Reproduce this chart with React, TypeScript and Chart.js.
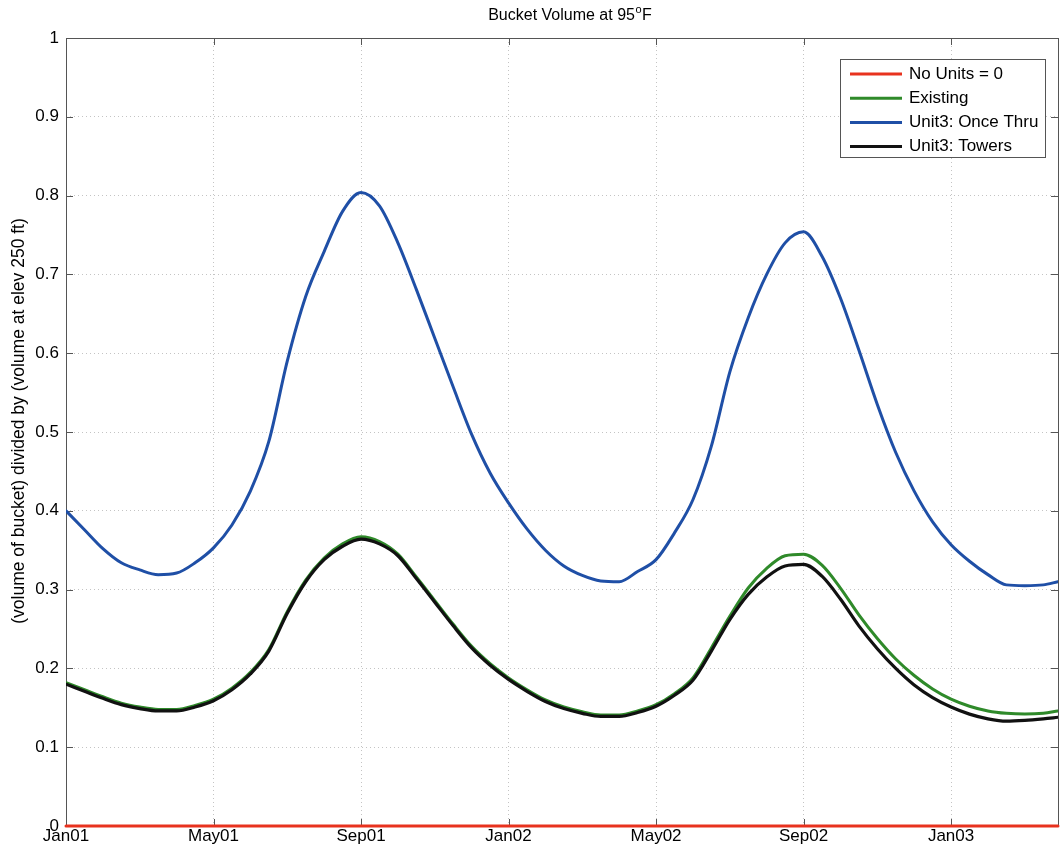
import React, { useEffect, useRef } from "react";
import { Chart, registerables } from "chart.js";

Chart.register(...registerables);

const FONT = '"Liberation Sans", Arial, Helvetica, sans-serif';

// x positions in months after Jan 1 2001
const months = [
  0, 0.5, 1, 1.5, 2, 2.5, 3, 3.5, 4, 4.5, 5, 5.5, 6, 6.5, 7, 7.5, 8, 8.5, 9, 9.5,
  10, 10.5, 11, 11.5, 12, 12.5, 13, 13.5, 14, 14.5, 15, 15.5, 16, 16.5, 17, 17.5,
  18, 18.5, 19, 19.5, 20, 20.5, 21, 21.5, 22, 22.5, 23, 23.5, 24, 24.5, 25, 25.5,
  26, 26.5, 26.9,
];

const noUnits = [
  0, 0, 0, 0, 0, 0, 0, 0, 0, 0, 0, 0, 0, 0, 0, 0, 0, 0, 0, 0,
  0, 0, 0, 0, 0, 0, 0, 0, 0, 0, 0, 0, 0, 0, 0, 0, 0, 0, 0, 0,
  0, 0, 0, 0, 0, 0, 0, 0, 0, 0, 0, 0, 0, 0, 0,
];

const existing = [
  0.182, 0.173, 0.164, 0.156, 0.151, 0.148, 0.148, 0.153, 0.161, 0.175,
  0.195, 0.224, 0.272, 0.312, 0.340, 0.358, 0.367, 0.361, 0.345, 0.316,
  0.286, 0.256, 0.228, 0.206, 0.188,
  0.173, 0.160, 0.151, 0.145, 0.141, 0.141, 0.146, 0.154, 0.168, 0.188,
  0.226, 0.266, 0.302, 0.327, 0.343, 0.345, 0.331, 0.302, 0.268, 0.238,
  0.212, 0.191, 0.174, 0.161, 0.152, 0.146, 0.143, 0.142, 0.143, 0.146,
];

const onceThru = [
  0.400, 0.376, 0.352, 0.334, 0.325, 0.319, 0.321, 0.334, 0.353, 0.382,
  0.425, 0.488, 0.590, 0.672, 0.729, 0.780, 0.804, 0.787, 0.740, 0.681,
  0.619, 0.557, 0.497, 0.448, 0.410,
  0.377, 0.350, 0.330, 0.318, 0.311, 0.310, 0.323, 0.338, 0.372, 0.414,
  0.482, 0.576, 0.645, 0.700, 0.740, 0.754, 0.723, 0.670, 0.604, 0.535,
  0.474, 0.425, 0.386, 0.357, 0.336, 0.319, 0.306, 0.305, 0.306, 0.310,
];

const towers = [
  0.180, 0.171, 0.162, 0.154, 0.149, 0.146, 0.146, 0.151, 0.159, 0.173,
  0.193, 0.222, 0.270, 0.310, 0.338, 0.355, 0.364, 0.358, 0.343, 0.314,
  0.284, 0.254, 0.226, 0.204, 0.186,
  0.171, 0.158, 0.149, 0.143, 0.139, 0.139, 0.144, 0.152, 0.166, 0.185,
  0.222, 0.262, 0.294, 0.316, 0.330, 0.332, 0.317, 0.288, 0.254, 0.225,
  0.200, 0.179, 0.163, 0.151, 0.142, 0.136, 0.133, 0.134, 0.136, 0.138,
];

const seriesLabels = ["No Units = 0", "Existing", "Unit3: Once Thru", "Unit3: Towers"];
const seriesColors = ["#e8321e", "#2f8a2a", "#1f4fa6", "#111111"];

const xTickMonths = [0, 4, 8, 12, 16, 20, 24];
const xTickLabels = ["Jan01", "May01", "Sep01", "Jan02", "May02", "Sep02", "Jan03"];
const yTickValues = [0, 0.1, 0.2, 0.3, 0.4, 0.5, 0.6, 0.7, 0.8, 0.9, 1];
const yTickLabels = ["0", "0.1", "0.2", "0.3", "0.4", "0.5", "0.6", "0.7", "0.8", "0.9", "1"];

const titleMain = "Bucket Volume at 95";
const titleSup = "o";
const titleEnd = "F";
const yTitle = "(volume of bucket) divided by (volume at elev 250 ft)";

const decorPlugin = {
  id: "matlabDecor",
  beforeDatasetsDraw(chart: any) {
    const { ctx, chartArea: a, scales } = chart;
    ctx.save();
    ctx.strokeStyle = "#555";
    ctx.lineWidth = 1;
    ctx.strokeRect(Math.round(a.left) + 0.5, Math.round(a.top) + 0.5, Math.round(a.right - a.left), Math.round(a.bottom - a.top));
    const tl = 7;
    ctx.beginPath();
    scales.y.ticks.forEach((t: any) => {
      const y = Math.round(scales.y.getPixelForValue(t.value)) + 0.5;
      ctx.moveTo(a.left, y);
      ctx.lineTo(a.left + tl, y);
      ctx.moveTo(a.right, y);
      ctx.lineTo(a.right - tl, y);
    });
    scales.x.ticks.forEach((t: any) => {
      const x = Math.round(scales.x.getPixelForValue(t.value)) + 0.5;
      ctx.moveTo(x, a.top);
      ctx.lineTo(x, a.top + tl);
      ctx.moveTo(x, a.bottom);
      ctx.lineTo(x, a.bottom - tl);
    });
    ctx.stroke();
    ctx.restore();
  },
  afterDraw(chart: any) {
    const { ctx, chartArea: a } = chart;
    ctx.save();
    // Title with superscript
    ctx.fillStyle = "#000";
    ctx.textBaseline = "middle";
    ctx.textAlign = "left";
    const mainFont = `16px ${FONT}`;
    const supFont = `11px ${FONT}`;
    ctx.font = mainFont;
    const w1 = ctx.measureText(titleMain).width;
    const w3 = ctx.measureText(titleEnd).width;
    ctx.font = supFont;
    const w2 = ctx.measureText(titleSup).width;
    const total = w1 + w2 + w3 + 1;
    const cx = (a.left + a.right) / 2 + 8;
    let x = cx - total / 2;
    const ty = 16;
    ctx.font = mainFont;
    ctx.fillText(titleMain, x, ty);
    x += w1 + 0.5;
    ctx.font = supFont;
    ctx.fillText(titleSup, x, ty - 6);
    x += w2 + 0.5;
    ctx.font = mainFont;
    ctx.fillText(titleEnd, x, ty);

    // Y axis title
    ctx.save();
    ctx.translate(19, 421);
    ctx.rotate(-Math.PI / 2);
    ctx.textAlign = "center";
    ctx.textBaseline = "middle";
    ctx.font = `17.5px ${FONT}`;
    ctx.fillText(yTitle, 0, 0);
    ctx.restore();

    // Legend
    const bx = 840, by = 59, bw = 205, bh = 98;
    ctx.fillStyle = "#fff";
    ctx.fillRect(bx, by, bw, bh);
    ctx.strokeStyle = "#555";
    ctx.lineWidth = 1;
    ctx.strokeRect(bx + 0.5, by + 0.5, bw, bh);
    ctx.font = `17px ${FONT}`;
    ctx.textAlign = "left";
    ctx.textBaseline = "middle";
    chart.data.datasets.forEach((ds: any, i: number) => {
      const ry = by + 15 + i * 24.2;
      ctx.strokeStyle = ds.borderColor;
      ctx.lineWidth = 3;
      ctx.beginPath();
      ctx.moveTo(bx + 10, ry);
      ctx.lineTo(bx + 62, ry);
      ctx.stroke();
      ctx.fillStyle = "#000";
      ctx.fillText(ds.label, bx + 69, ry);
    });
    ctx.restore();
  },
};

export default function App() {
  const ref = useRef<HTMLCanvasElement | null>(null);

  useEffect(() => {
    if (!ref.current) return;
    const series = [noUnits, existing, onceThru, towers];
    const orders = [0, 3, 2, 1];
    const chart = new Chart(ref.current, {
      type: "line",
      data: {
        datasets: series.map((vals, i) => ({
          label: seriesLabels[i],
          data: months.map((m, j) => ({ x: m, y: vals[j] })),
          borderColor: seriesColors[i],
          backgroundColor: seriesColors[i],
          borderWidth: i === 3 ? 3.2 : 3,
          pointRadius: 0,
          cubicInterpolationMode: "monotone",
          borderCapStyle: "round",
          borderJoinStyle: "round",
          order: orders[i],
          clip: i === 0 ? false : undefined,
        })) as any,
      },
      options: {
        responsive: false,
        animation: false,
        devicePixelRatio: 1,
        layout: { padding: { top: 38, right: 5, bottom: 0, left: 0 } },
        plugins: {
          legend: { display: false },
          tooltip: { enabled: false },
          title: { display: false },
        },
        scales: {
          x: {
            type: "linear",
            min: 0,
            max: 26.9,
            afterBuildTicks: (scale: any) => {
              scale.ticks = xTickMonths.map((v) => ({ value: v }));
            },
            afterFit: (scale: any) => {
              scale.height = 37;
            },
            ticks: {
              autoSkip: false,
              maxRotation: 0,
              padding: 0,
              color: "#000",
              font: { family: FONT, size: 17 },
              callback: (_v: any, i: number) => xTickLabels[i],
            },
            grid: { color: "#c4c4c4", lineWidth: 1, drawTicks: false },
            border: { display: false, dash: [1, 3] },
          },
          y: {
            type: "linear",
            min: 0,
            max: 1,
            afterBuildTicks: (scale: any) => {
              scale.ticks = yTickValues.map((v) => ({ value: v }));
            },
            afterFit: (scale: any) => {
              scale.width = 66;
            },
            ticks: {
              autoSkip: false,
              padding: 7,
              color: "#000",
              font: { family: FONT, size: 17 },
              callback: (_v: any, i: number) => yTickLabels[i],
            },
            grid: { color: "#c4c4c4", lineWidth: 1, drawTicks: false },
            border: { display: false, dash: [1, 3] },
          },
        },
      },
      plugins: [decorPlugin],
    });
    return () => chart.destroy();
  }, []);

  return (
    <div style={{ position: "absolute", left: 0, top: 0, width: 1063, height: 863, background: "#fff" }}>
      <canvas ref={ref} width={1063} height={863} />
    </div>
  );
}
